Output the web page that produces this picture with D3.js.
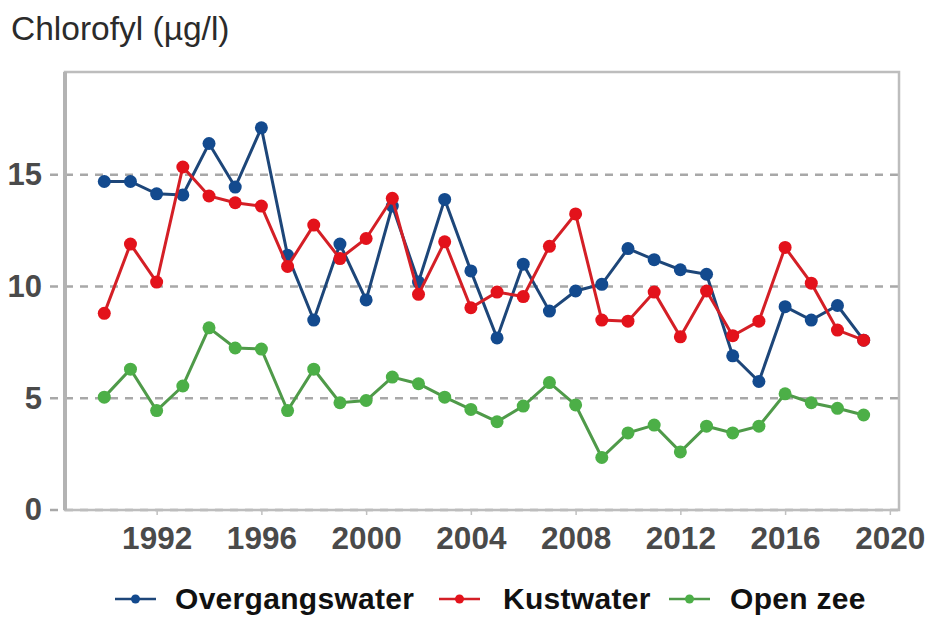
<!DOCTYPE html>
<html>
<head>
<meta charset="utf-8">
<script src="https://cdn.jsdelivr.net/npm/d3@7"></script>
<style>
    body { margin: 0; background: #fff; }
    svg { display: block; font-family: "Liberation Sans", Arial, sans-serif; }
</style>
</head>
<body>
<svg width="929" height="617"></svg>
<script>
// data
let years = d3.range(1990, 2020);
let overgangswater = [14.7, 14.7, 14.15, 14.1, 16.4, 14.45, 17.1, 11.4, 8.5, 11.9,
    9.4, 13.6, 10.2, 13.9, 10.7, 7.7, 11.0, 8.9, 9.8, 10.1,
    11.7, 11.2, 10.75, 10.55, 6.9, 5.75, 9.1, 8.5, 9.15, 7.6];
let kustwater = [8.8, 11.9, 10.2, 15.35, 14.05, 13.75, 13.6, 10.9, 12.75, 11.25,
    12.15, 13.95, 9.65, 12.0, 9.05, 9.75, 9.55, 11.8, 13.25, 8.5,
    8.45, 9.75, 7.75, 9.8, 7.8, 8.45, 11.75, 10.15, 8.05, 7.6];
let openZee = [5.05, 6.3, 4.45, 5.55, 8.15, 7.25, 7.2, 4.45, 6.3, 4.8,
    4.9, 5.95, 5.65, 5.05, 4.5, 3.95, 4.65, 5.7, 4.7, 2.35,
    3.45, 3.8, 2.6, 3.75, 3.45, 3.75, 5.2, 4.8, 4.55, 4.25];
let seriesNames = ["Overgangswater", "Kustwater", "Open zee"];
let yTicks = [0, 5, 10, 15];
let xTicks = [1992, 1996, 2000, 2004, 2008, 2012, 2016, 2020];

document.addEventListener('DOMContentLoaded', (event) => {
    let svg = d3.select("svg");

    let margin = {top: 72, right: 30, bottom: 107, left: 65};
    let width = 929 - margin.left - margin.right;
    let height = 617 - margin.top - margin.bottom;

    let colors = ["#134a8e", "#e3121b", "#4caf47"];
    let lineColors = ["#1d4679", "#d41f26", "#4f9a49"];
    let allSeries = [overgangswater, kustwater, openZee];

    svg.append("text")
        .attr("x", 11)
        .attr("y", 40)
        .attr("font-size", "33.5px")
        .attr("fill", "#2b2b2b")
        .text("Chlorofyl (\u00b5g/l)");

    let xScale = d3.scaleLinear().domain([1988.5, 2020.35]).range([0, width]);
    let yScale = d3.scaleLinear().domain([0, 19.6]).range([height, 0]);

    let g = svg.append("g")
        .attr("transform", "translate(" + margin.left + "," + margin.top + ")");

    // dashed gridlines, starting a bit left of the frame like the tick marks
    g.selectAll(".grid")
        .data(yTicks)
        .enter().append("line")
        .attr("class", "grid")
        .attr("x1", -15)
        .attr("x2", width)
        .attr("y1", d => yScale(d))
        .attr("y2", d => yScale(d))
        .attr("stroke", "#a8a8a8")
        .attr("stroke-width", 2.5)
        .attr("stroke-dasharray", "8,7");

    // frame
    g.append("rect")
        .attr("x", 0)
        .attr("y", 0)
        .attr("width", width)
        .attr("height", height)
        .attr("fill", "none")
        .attr("stroke", "#bdbdbd")
        .attr("stroke-width", 2.5);
    g.append("line")
        .attr("x1", 0).attr("x2", 0)
        .attr("y1", 0).attr("y2", height)
        .attr("stroke", "#b3b3b3")
        .attr("stroke-width", 4);

    let xAxis = g.append("g")
        .attr("transform", "translate(0," + height + ")")
        .call(d3.axisBottom(xScale).tickValues(xTicks).tickFormat(d3.format("d")).tickSize(5).tickPadding(12));
    xAxis.select(".domain").remove();
    xAxis.selectAll("line").attr("stroke", "#c0c0c0").attr("stroke-width", 1.5);
    xAxis.selectAll("text")
        .attr("font-size", "31.5px")
        .attr("font-weight", "bold")
        .attr("fill", "#4a4a4a");

    let yAxis = g.append("g")
        .call(d3.axisLeft(yScale).tickValues(yTicks).tickSize(0).tickPadding(23));
    yAxis.select(".domain").remove();
    yAxis.selectAll("text")
        .attr("font-size", "31px")
        .attr("font-weight", "bold")
        .attr("fill", "#4a4a4a");

    let line = d3.line()
        .x((d, i) => xScale(years[i]))
        .y(d => yScale(d));

    for (let s = 0; s < allSeries.length; s++) {
        g.append("path")
            .datum(allSeries[s])
            .attr("fill", "none")
            .attr("stroke", lineColors[s])
            .attr("stroke-width", 3)
            .attr("d", line);

        g.selectAll(".pt" + s)
            .data(allSeries[s])
            .enter().append("circle")
            .attr("class", "pt" + s)
            .attr("cx", (d, i) => xScale(years[i]))
            .attr("cy", d => yScale(d))
            .attr("r", 6.5)
            .attr("fill", colors[s]);
    }

    // legend
    let legendX = [115, 439, 669];
    let legendTextX = [175, 503, 730];
    let legend = svg.append("g").attr("transform", "translate(0,599)");
    for (let s = 0; s < seriesNames.length; s++) {
        legend.append("line")
            .attr("x1", legendX[s]).attr("x2", legendX[s] + 41)
            .attr("y1", 0).attr("y2", 0)
            .attr("stroke", lineColors[s])
            .attr("stroke-width", 2.5);
        legend.append("circle")
            .attr("cx", legendX[s] + 20.5).attr("cy", 0)
            .attr("r", 4.5)
            .attr("fill", colors[s]);
        legend.append("text")
            .attr("x", legendTextX[s])
            .attr("y", 10)
            .attr("font-size", "30px")
            .attr("font-weight", "bold")
            .attr("letter-spacing", "0.3px")
            .attr("fill", "#111")
            .text(seriesNames[s]);
    }
});
</script>
</body>
</html>
